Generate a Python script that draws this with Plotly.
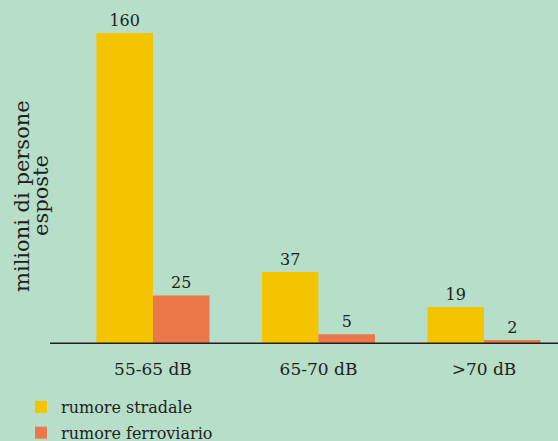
import plotly.graph_objects as go

categories = ["55-65 dB", "65-70 dB", ">70 dB"]
stradale = [160, 37, 19]
ferroviario = [25, 5, 2]
series_names = ["rumore stradale", "rumore ferroviario"]

BG = "#b6dec8"
YELLOW = "#f5c400"
ORANGE = "#ea7848"
INK = "#231f20"
FONT = "DejaVu Serif"

fig = go.Figure()
fig.add_trace(go.Bar(
    x=categories, y=stradale, name=series_names[0],
    marker=dict(color=YELLOW, line=dict(width=0)),
    text=[str(v) for v in stradale], textposition="outside",
    textfont=dict(family=FONT, size=16, color=INK),
    cliponaxis=False, legendgroup="a",
))
fig.add_trace(go.Bar(
    x=categories, y=ferroviario, name=series_names[1],
    marker=dict(color=ORANGE, line=dict(width=0)),
    text=[str(v) for v in ferroviario], textposition="outside",
    textfont=dict(family=FONT, size=16, color=INK),
    cliponaxis=False, legendgroup="b",
))

# baseline under the bars
fig.add_shape(type="line", xref="paper", yref="y", x0=0, x1=1, y0=0, y1=0,
              line=dict(color=INK, width=3))

# y-axis title, two rotated lines set close together
title_lines = ["milioni di persone", "esposte"]
for text, xpx in zip(title_lines, [22, 41]):
    fig.add_annotation(
        text=text, xref="paper", yref="paper",
        x=(xpx - 50) / 508, y=(344 - 196) / 344, xanchor="center", yanchor="middle",
        textangle=-90, showarrow=False,
        font=dict(family=FONT, size=21, color=INK),
    )

fig.update_layout(
    width=558, height=441,
    margin=dict(l=50, r=0, t=0, b=97, autoexpand=False),
    paper_bgcolor=BG, plot_bgcolor=BG,
    barmode="group", bargap=0.317, bargroupgap=0,
    font=dict(family=FONT, color=INK),
    showlegend=True,
    legend=dict(
        xref="container", yref="container",
        x=21 / 558, xanchor="left", y=1 - 390 / 441, yanchor="top",
        orientation="v", traceorder="grouped", tracegroupgap=2,
        font=dict(family=FONT, size=16, color=INK),
        bgcolor="rgba(0,0,0,0)",
    ),
    xaxis=dict(
        range=[-0.622, 2.447], showgrid=False, zeroline=False, showline=False,
        ticks="", tickfont=dict(family=FONT, size=17, color=INK),
        ticklabelstandoff=13, automargin=False,
    ),
    yaxis=dict(
        range=[0, 177], showgrid=False, zeroline=False, showline=False,
        showticklabels=False, ticks="", automargin=False,
    ),
)

fig.write_html("out.html")
